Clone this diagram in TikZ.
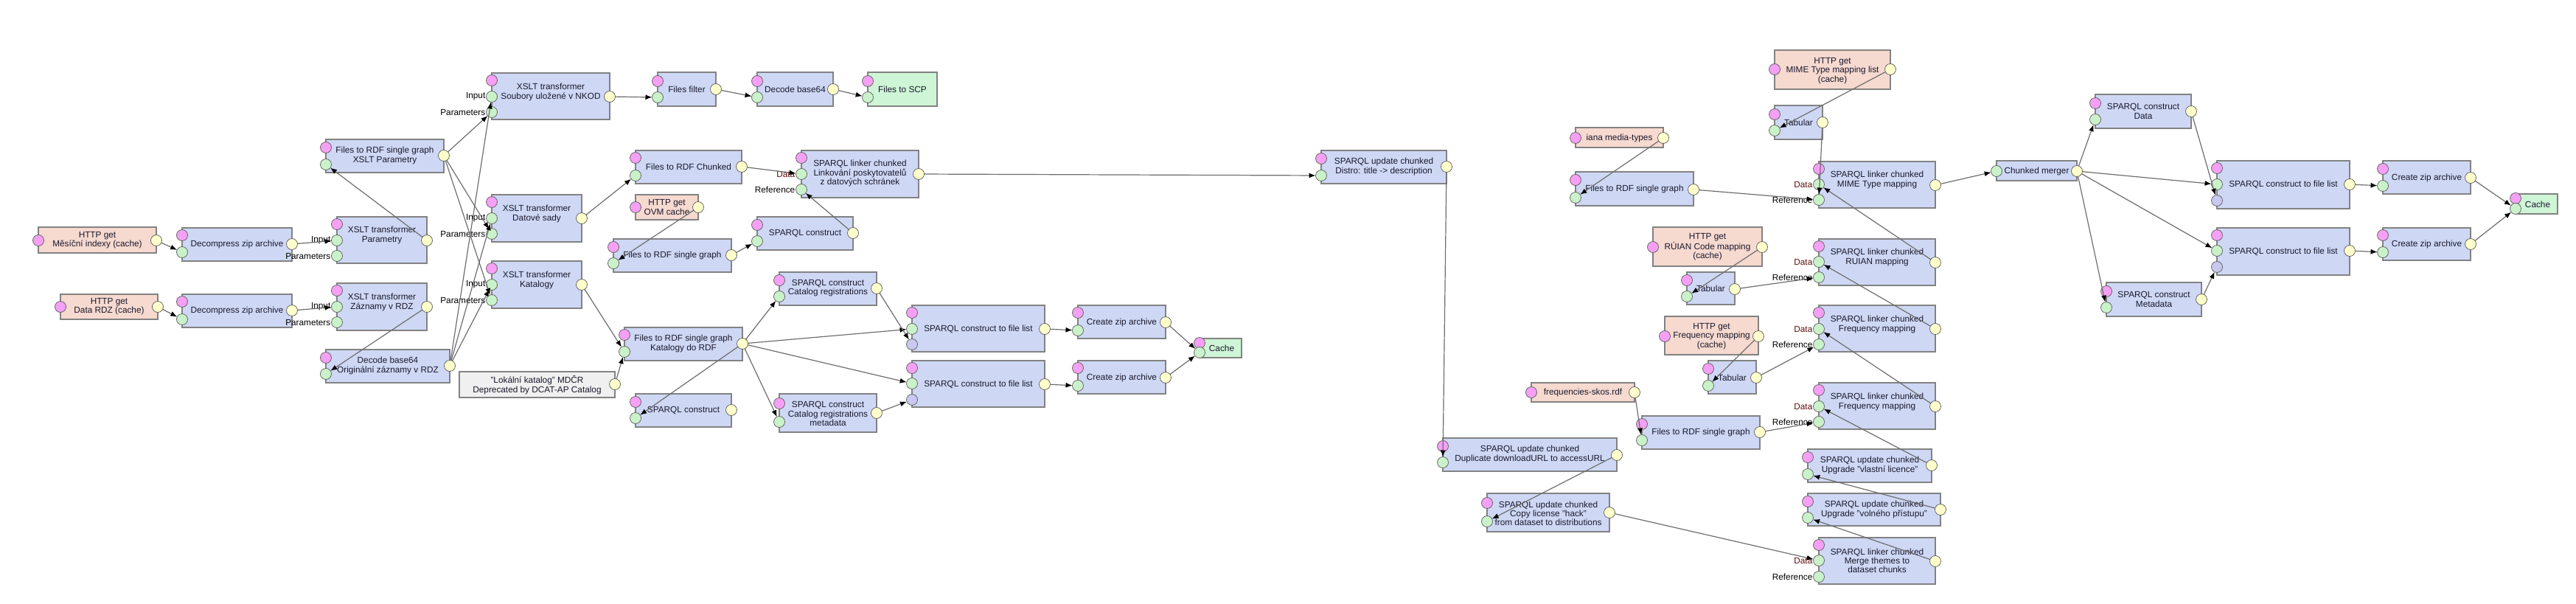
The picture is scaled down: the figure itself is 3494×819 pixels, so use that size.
\documentclass[tikz,border=0pt]{standalone}
\usepackage{fontspec}
\setmainfont{Liberation Sans}
\usetikzlibrary{arrows.meta}
\definecolor{cblue}{RGB}{206,216,245}
\definecolor{csal}{RGB}{246,217,207}
\definecolor{cgrn}{RGB}{206,245,214}
\definecolor{cgry}{RGB}{240,240,240}
\definecolor{pmag}{RGB}{245,160,245}
\definecolor{pgrn}{RGB}{202,242,202}
\definecolor{pyel}{RGB}{255,255,204}
\definecolor{plav}{RGB}{200,200,240}
\definecolor{bord}{RGB}{130,130,130}
\definecolor{lin}{RGB}{110,110,110}
\definecolor{maroonlab}{RGB}{95,15,15}
\definecolor{txtc}{RGB}{25,25,45}
\tikzset{
  box/.style={draw=bord,line width=1.2pt,inner sep=0pt,outer sep=0pt,anchor=north west},
  bbox/.style={box,fill=cblue},
  sbox/.style={box,fill=csal},
  gbox/.style={box,fill=cgrn},
  ybox/.style={box,fill=cgry},
  txt/.style={align=center,font=\fontsize{11.8}{12.2}\selectfont,inner sep=0pt,text=txtc},
  port/.style={circle,draw=black!60,line width=0.8pt,minimum size=15pt,inner sep=0pt,outer sep=0pt},
  mp/.style={port,fill=pmag},
  ip/.style={port,fill=pgrn},
  op/.style={port,fill=pyel},
  ap/.style={port,fill=plav},
  conn/.style={draw=lin,line width=1.2pt,-{Latex[length=9pt,width=7pt,color=black]}},
  plab/.style={font=\fontsize{11.8}{12.2}\selectfont,anchor=east,inner sep=1pt,text=black},
  dlab/.style={plab,text=maroonlab}
}
\newcommand{\comp}[6]{\node[#6,minimum width={#4pt-#2pt},minimum height={#5pt-#3pt}] (#1) at (#2,#3) {};}
\newcommand{\ctext}[4]{\node[txt] (#1) at (#2,#3) {#4};}
\newcommand{\prt}[4]{\node[#4] (#1) at (#2,#3) {};}
\newcommand{\lab}[3]{\node[#1] at (#2.west) {#3};}
\begin{document}
\begin{tikzpicture}[x=1pt,y=-1pt]
\useasboundingbox (0,0) rectangle (3494,819);
\fill[white] (0,0) rectangle (3494,819);

% ---------- left part ----------
\comp{httpA}{52}{308}{212}{343}{sbox}
\ctext{httpA-t}{132}{326}{HTTP get\\Měsíční indexy (cache)}
\prt{httpA-m}{52}{326}{mp}\prt{httpA-o}{212}{326}{op}

\comp{decA}{247}{309}{396}{354}{bbox}
\ctext{decA-t}{321.5}{331}{Decompress zip archive}
\prt{decA-m}{247}{319}{mp}\prt{decA-i}{247}{342}{ip}\prt{decA-o}{396}{331}{op}

\comp{httpB}{82}{399}{214}{433}{sbox}
\ctext{httpB-t}{148}{416}{HTTP get\\Data RDZ (cache)}
\prt{httpB-m}{82}{416}{mp}\prt{httpB-o}{214}{416}{op}

\comp{decB}{247}{399}{396}{444}{bbox}
\ctext{decB-t}{321.5}{421}{Decompress zip archive}
\prt{decB-m}{247}{409}{mp}\prt{decB-i}{247}{433}{ip}\prt{decB-o}{396}{421}{op}

\comp{xsltPar}{457}{294}{579}{357}{bbox}
\ctext{xsltPar-t}{518}{319}{XSLT transformer\\Parametry}
\prt{xsltPar-m}{457}{304}{mp}\prt{xsltPar-i}{457}{326}{ip}\prt{xsltPar-p}{457}{347}{ip}\prt{xsltPar-o}{579}{326}{op}

\comp{xsltZaz}{457}{384}{579}{448}{bbox}
\ctext{xsltZaz-t}{518}{410}{XSLT transformer\\Záznamy v RDZ}
\prt{xsltZaz-m}{457}{394}{mp}\prt{xsltZaz-i}{457}{416}{ip}\prt{xsltZaz-p}{457}{437}{ip}\prt{xsltZaz-o}{579}{416}{op}

\comp{f2rPar}{442}{189}{602}{234}{bbox}
\ctext{f2rPar-t}{522}{211}{Files to RDF single graph\\XSLT Parametry}
\prt{f2rPar-m}{442}{200}{mp}\prt{f2rPar-i}{442}{223}{ip}\prt{f2rPar-o}{602}{211}{op}

\comp{decode64}{442}{474}{610}{519}{bbox}
\ctext{decode64-t}{526}{496}{Decode base64\\Originální záznamy v RDZ}
\prt{decode64-m}{442}{485}{mp}\prt{decode64-i}{442}{507}{ip}\prt{decode64-o}{610}{496}{op}

\comp{xsltNKOD}{667}{99}{827}{162}{bbox}
\ctext{xsltNKOD-t}{747}{125}{XSLT transformer\\Soubory uložené v NKOD}
\prt{xsltNKOD-m}{667}{109}{mp}\prt{xsltNKOD-i}{667}{131}{ip}\prt{xsltNKOD-p}{667}{152}{ip}\prt{xsltNKOD-o}{827}{131}{op}

\comp{xsltDat}{667}{264}{789}{328}{bbox}
\ctext{xsltDat-t}{728}{290}{XSLT transformer\\Datové sady}
\prt{xsltDat-m}{667}{274}{mp}\prt{xsltDat-i}{667}{296}{ip}\prt{xsltDat-p}{667}{317}{ip}\prt{xsltDat-o}{789}{296}{op}

\comp{xsltKat}{667}{354}{789}{418}{bbox}
\ctext{xsltKat-t}{728}{380}{XSLT transformer\\Katalogy}
\prt{xsltKat-m}{667}{364}{mp}\prt{xsltKat-i}{667}{386}{ip}\prt{xsltKat-p}{667}{407}{ip}\prt{xsltKat-o}{789}{386}{op}

\comp{lokal}{623}{504}{834}{539}{ybox}
\ctext{lokal-t}{728.5}{522}{"Lokální katalog" MDČR\\Deprecated by DCAT-AP Catalog}
\prt{lokal-o}{834}{521}{op}

\comp{filesFilter}{892}{98}{971}{144}{bbox}
\ctext{filesFilter-t}{931.5}{121}{Files filter}
\prt{filesFilter-m}{892}{110}{mp}\prt{filesFilter-i}{892}{132}{ip}\prt{filesFilter-o}{971}{121}{op}

\comp{dec64b}{1027}{98}{1130}{144}{bbox}
\ctext{dec64b-t}{1078.5}{121}{Decode base64}
\prt{dec64b-m}{1027}{110}{mp}\prt{dec64b-i}{1027}{132}{ip}\prt{dec64b-o}{1130}{121}{op}

\comp{scp}{1177}{98}{1271}{144}{gbox}
\ctext{scp-t}{1224}{121}{Files to SCP}
\prt{scp-m}{1177}{110}{mp}\prt{scp-i}{1177}{132}{ip}

\comp{f2rChunk}{862}{204}{1006}{249}{bbox}
\ctext{f2rChunk-t}{934}{226}{Files to RDF Chunked}
\prt{f2rChunk-m}{862}{214}{mp}\prt{f2rChunk-i}{862}{238}{ip}\prt{f2rChunk-o}{1006}{226}{op}

\comp{ovm}{862}{264}{947}{298}{sbox}
\ctext{ovm-t}{904.5}{281}{HTTP get\\OVM cache}
\prt{ovm-m}{862}{281}{mp}\prt{ovm-o}{947}{281}{op}

\comp{linkPosk}{1087}{204}{1246}{268}{bbox}
\ctext{linkPosk-t}{1166.5}{235}{SPARQL linker chunked\\Linkování poskytovatelů\\z datových schránek}
\prt{linkPosk-m}{1087}{214}{mp}\prt{linkPosk-d}{1087}{236}{ip}\prt{linkPosk-r}{1087}{257}{ip}\prt{linkPosk-o}{1246}{236}{op}

\comp{construct1}{1027}{294}{1157}{339}{bbox}
\ctext{construct1-t}{1092}{316}{SPARQL construct}
\prt{construct1-m}{1027}{305}{mp}\prt{construct1-i}{1027}{327}{ip}\prt{construct1-o}{1157}{316}{op}

\comp{f2rOVM}{832}{324}{992}{369}{bbox}
\ctext{f2rOVM-t}{912}{346}{Files to RDF single graph}
\prt{f2rOVM-m}{832}{335}{mp}\prt{f2rOVM-i}{832}{357}{ip}\prt{f2rOVM-o}{992}{346}{op}

\comp{catReg}{1057}{369}{1189}{414}{bbox}
\ctext{catReg-t}{1123}{391}{SPARQL construct\\Catalog registrations}
\prt{catReg-m}{1057}{380}{mp}\prt{catReg-i}{1057}{402}{ip}\prt{catReg-o}{1189}{391}{op}

\comp{f2rKat}{847}{444}{1007}{489}{bbox}
\ctext{f2rKat-t}{927}{466}{Files to RDF single graph\\Katalogy do RDF}
\prt{f2rKat-m}{847}{454}{mp}\prt{f2rKat-i}{847}{477}{ip}\prt{f2rKat-o}{1007}{466}{op}

\comp{construct2}{862}{534}{992}{579}{bbox}
\ctext{construct2-t}{927}{556}{SPARQL construct}
\prt{construct2-m}{862}{545}{mp}\prt{construct2-i}{862}{567}{ip}\prt{construct2-o}{992}{556}{op}

\comp{catRegMeta}{1057}{534}{1189}{586}{bbox}
\ctext{catRegMeta-t}{1123}{561}{SPARQL construct\\Catalog registrations\\metadata}
\prt{catRegMeta-m}{1057}{547}{mp}\prt{catRegMeta-i}{1057}{572}{ip}\prt{catRegMeta-o}{1189}{560}{op}

\comp{fl1}{1237}{414}{1417}{477}{bbox}
\ctext{fl1-t}{1327}{446}{SPARQL construct to file list}
\prt{fl1-m}{1237}{424}{mp}\prt{fl1-i}{1237}{446}{ip}\prt{fl1-a}{1237}{467}{ap}\prt{fl1-o}{1417}{446}{op}

\comp{fl2}{1237}{489}{1417}{552}{bbox}
\ctext{fl2-t}{1327}{521}{SPARQL construct to file list}
\prt{fl2-m}{1237}{499}{mp}\prt{fl2-i}{1237}{520}{ip}\prt{fl2-a}{1237}{542}{ap}\prt{fl2-o}{1417}{521}{op}

\comp{zip1}{1462}{414}{1581}{459}{bbox}
\ctext{zip1-t}{1521.5}{437}{Create zip archive}
\prt{zip1-m}{1462}{424}{mp}\prt{zip1-i}{1462}{448}{ip}\prt{zip1-o}{1581}{437}{op}

\comp{zip2}{1462}{489}{1581}{534}{bbox}
\ctext{zip2-t}{1521.5}{512}{Create zip archive}
\prt{zip2-m}{1462}{499}{mp}\prt{zip2-i}{1462}{523}{ip}\prt{zip2-o}{1581}{512}{op}

\comp{cache1}{1627}{459}{1684}{485}{gbox}
\ctext{cache1-t}{1657}{472}{Cache}
\prt{cache1-m}{1627}{465}{mp}\prt{cache1-i}{1627}{478}{ip}

% ---------- middle part ----------
\comp{distro}{1792}{204}{1962}{249}{bbox}
\ctext{distro-t}{1877}{226}{SPARQL update chunked\\Distro: title -> description}
\prt{distro-m}{1792}{215}{mp}\prt{distro-i}{1792}{238}{ip}\prt{distro-o}{1962}{226}{op}

\comp{dup}{1957}{594}{2193}{639}{bbox}
\ctext{dup-t}{2075}{616}{SPARQL update chunked\\Duplicate downloadURL to accessURL}
\prt{dup-m}{1957}{605}{mp}\prt{dup-i}{1957}{627}{ip}\prt{dup-o}{2193}{617}{op}

\comp{copyLic}{2017}{669}{2183}{721}{bbox}
\ctext{copyLic-t}{2100}{696}{SPARQL update chunked\\Copy license "hack"\\from dataset to distributions}
\prt{copyLic-m}{2017}{682}{mp}\prt{copyLic-i}{2017}{707}{ip}\prt{copyLic-o}{2183}{695}{op}

\comp{freqRdf}{2077}{519}{2217}{545}{sbox}
\ctext{freqRdf-t}{2147}{532}{frequencies-skos.rdf}
\prt{freqRdf-m}{2077}{532}{mp}\prt{freqRdf-o}{2217}{532}{op}

\comp{f2rFreq}{2227}{564}{2387}{609}{bbox}
\ctext{f2rFreq-t}{2307}{586}{Files to RDF single graph}
\prt{f2rFreq-m}{2227}{575}{mp}\prt{f2rFreq-i}{2227}{597}{ip}\prt{f2rFreq-o}{2387}{586}{op}

\comp{iana}{2137}{173}{2256}{200}{sbox}
\ctext{iana-t}{2196.5}{187}{iana media-types}
\prt{iana-m}{2137}{187}{mp}\prt{iana-o}{2256}{187}{op}

\comp{f2rIana}{2137}{233}{2297}{279}{bbox}
\ctext{f2rIana-t}{2217}{256}{Files to RDF single graph}
\prt{f2rIana-m}{2137}{244}{mp}\prt{f2rIana-i}{2137}{268}{ip}\prt{f2rIana-o}{2297}{257}{op}

\comp{httpMime}{2407}{68}{2564}{121}{sbox}
\ctext{httpMime-t}{2485.5}{96}{HTTP get\\MIME Type mapping list\\(cache)}
\prt{httpMime-m}{2407}{94}{mp}\prt{httpMime-o}{2564}{94}{op}

\comp{tabMime}{2407}{143}{2472}{189}{bbox}
\ctext{tabMime-t}{2439.5}{166}{Tabular}
\prt{tabMime-m}{2407}{155}{mp}\prt{tabMime-i}{2407}{177}{ip}\prt{tabMime-o}{2472}{166}{op}

\comp{linkMime}{2467}{219}{2625}{282}{bbox}
\ctext{linkMime-t}{2546}{244}{SPARQL linker chunked\\MIME Type mapping}
\prt{linkMime-m}{2467}{229}{mp}\prt{linkMime-d}{2467}{250}{ip}\prt{linkMime-r}{2467}{271}{ip}\prt{linkMime-o}{2625}{251}{op}

\comp{httpRuian}{2242}{308}{2390}{361}{sbox}
\ctext{httpRuian-t}{2316}{335}{HTTP get\\RÚIAN Code mapping\\(cache)}
\prt{httpRuian-m}{2242}{335}{mp}\prt{httpRuian-o}{2390}{335}{op}

\comp{tabRuian}{2288}{369}{2353}{413}{bbox}
\ctext{tabRuian-t}{2320.5}{391}{Tabular}
\prt{tabRuian-m}{2288}{380}{mp}\prt{tabRuian-i}{2288}{402}{ip}\prt{tabRuian-o}{2353}{392}{op}

\comp{linkRuian}{2467}{324}{2625}{387}{bbox}
\ctext{linkRuian-t}{2546}{349}{SPARQL linker chunked\\RUIAN mapping}
\prt{linkRuian-m}{2467}{334}{mp}\prt{linkRuian-d}{2467}{355}{ip}\prt{linkRuian-r}{2467}{376}{ip}\prt{linkRuian-o}{2625}{356}{op}

\comp{httpFreq}{2258}{429}{2385}{481}{sbox}
\ctext{httpFreq-t}{2321.5}{456}{HTTP get\\Frequency mapping\\(cache)}
\prt{httpFreq-m}{2258}{456}{mp}\prt{httpFreq-o}{2385}{456}{op}

\comp{tabFreq}{2317}{489}{2382}{534}{bbox}
\ctext{tabFreq-t}{2349.5}{512}{Tabular}
\prt{tabFreq-m}{2317}{500}{mp}\prt{tabFreq-i}{2317}{523}{ip}\prt{tabFreq-o}{2382}{512}{op}

\comp{linkFreqA}{2467}{414}{2625}{477}{bbox}
\ctext{linkFreqA-t}{2546}{440}{SPARQL linker chunked\\Frequency mapping}
\prt{linkFreqA-m}{2467}{424}{mp}\prt{linkFreqA-d}{2467}{446}{ip}\prt{linkFreqA-r}{2467}{467}{ip}\prt{linkFreqA-o}{2625}{446}{op}

\comp{linkFreqB}{2467}{519}{2625}{582}{bbox}
\ctext{linkFreqB-t}{2546}{545}{SPARQL linker chunked\\Frequency mapping}
\prt{linkFreqB-m}{2467}{529}{mp}\prt{linkFreqB-d}{2467}{551}{ip}\prt{linkFreqB-r}{2467}{572}{ip}\prt{linkFreqB-o}{2625}{551}{op}

\comp{upVlastni}{2452}{609}{2620}{654}{bbox}
\ctext{upVlastni-t}{2536}{631}{SPARQL update chunked\\Upgrade "vlastní licence"}
\prt{upVlastni-m}{2452}{620}{mp}\prt{upVlastni-i}{2452}{643}{ip}\prt{upVlastni-o}{2620}{631}{op}

\comp{upVolne}{2452}{669}{2632}{713}{bbox}
\ctext{upVolne-t}{2542}{691}{SPARQL update chunked\\Upgrade "volného přístupu"}
\prt{upVolne-m}{2452}{680}{mp}\prt{upVolne-i}{2452}{702}{ip}\prt{upVolne-o}{2632}{691}{op}

\comp{merge}{2467}{729}{2625}{792}{bbox}
\ctext{merge-t}{2546}{760}{SPARQL linker chunked\\Merge themes to\\dataset chunks}
\prt{merge-m}{2467}{739}{mp}\prt{merge-d}{2467}{760}{ip}\prt{merge-r}{2467}{782}{ip}\prt{merge-o}{2625}{761}{op}

% ---------- right part ----------
\comp{merger}{2708}{218}{2817}{245}{bbox}
\ctext{merger-t}{2762.5}{232}{Chunked merger}
\prt{merger-i}{2708}{232}{ip}\prt{merger-o}{2817}{232}{op}

\comp{conData}{2842}{128}{2972}{174}{bbox}
\ctext{conData-t}{2907}{151}{SPARQL construct\\Data}
\prt{conData-m}{2842}{140}{mp}\prt{conData-i}{2842}{162}{ip}\prt{conData-o}{2972}{151}{op}

\comp{conMeta}{2857}{383}{2986}{429}{bbox}
\ctext{conMeta-t}{2921.5}{406}{SPARQL construct\\Metadata}
\prt{conMeta-m}{2857}{395}{mp}\prt{conMeta-i}{2857}{417}{ip}\prt{conMeta-o}{2986}{406}{op}

\comp{flR1}{3007}{218}{3187}{283}{bbox}
\ctext{flR1-t}{3097}{250}{SPARQL construct to file list}
\prt{flR1-m}{3007}{228}{mp}\prt{flR1-i}{3007}{250}{ip}\prt{flR1-a}{3007}{272}{ap}\prt{flR1-o}{3187}{250}{op}

\comp{flR2}{3007}{309}{3187}{373}{bbox}
\ctext{flR2-t}{3097}{341}{SPARQL construct to file list}
\prt{flR2-m}{3007}{319}{mp}\prt{flR2-i}{3007}{340}{ip}\prt{flR2-a}{3007}{362}{ap}\prt{flR2-o}{3187}{340}{op}

\comp{zipR1}{3232}{218}{3351}{263}{bbox}
\ctext{zipR1-t}{3291.5}{241}{Create zip archive}
\prt{zipR1-m}{3232}{229}{mp}\prt{zipR1-i}{3232}{252}{ip}\prt{zipR1-o}{3351}{241}{op}

\comp{zipR2}{3232}{309}{3351}{353}{bbox}
\ctext{zipR2-t}{3291.5}{331}{Create zip archive}
\prt{zipR2-m}{3232}{319}{mp}\prt{zipR2-i}{3232}{342}{ip}\prt{zipR2-o}{3351}{331}{op}

\comp{cacheR}{3412}{263}{3469}{290}{gbox}
\ctext{cacheR-t}{3442}{277}{Cache}
\prt{cacheR-m}{3412}{269}{mp}\prt{cacheR-i}{3412}{283}{ip}

% ---------- port labels ----------
\foreach \n in {xsltPar,xsltZaz,xsltNKOD,xsltDat,xsltKat}{
  \lab{plab}{\n-i}{Input}
  \lab{plab}{\n-p}{Parameters}
}
\foreach \n in {linkPosk,linkMime,linkRuian,linkFreqA,linkFreqB,merge}{
  \lab{dlab}{\n-d}{Data}
  \lab{plab}{\n-r}{Reference}
}

% ---------- connectors ----------
\draw[conn] (httpA-o) -- (decA-i);
\draw[conn] (httpB-o) -- (decB-i);
\draw[conn] (decA-o) -- (xsltPar-i);
\draw[conn] (decB-o) -- (xsltZaz-i);
\draw[conn] (xsltPar-o) -- (f2rPar-i);
\draw[conn] (xsltZaz-o) -- (decode64-i);
\draw[conn] (f2rPar-o) -- (xsltNKOD-p);
\draw[conn] (f2rPar-o) -- (xsltDat-p);
\draw[conn] (f2rPar-o) -- (xsltKat-p);
\draw[conn] (decode64-o) -- (xsltNKOD-i);
\draw[conn] (decode64-o) -- (xsltDat-i);
\draw[conn] (decode64-o) -- (xsltKat-i);
\draw[conn] (xsltNKOD-o) -- (filesFilter-i);
\draw[conn] (filesFilter-o) -- (dec64b-i);
\draw[conn] (dec64b-o) -- (scp-i);
\draw[conn] (xsltDat-o) -- (f2rChunk-i);
\draw[conn] (f2rChunk-o) -- (linkPosk-d);
\draw[conn] (ovm-o) -- (f2rOVM-i);
\draw[conn] (f2rOVM-o) -- (construct1-i);
\draw[conn] (construct1-o) -- (linkPosk-r);
\draw[conn] (xsltKat-o) -- (f2rKat-i);
\draw[conn] (lokal-o) -- (f2rKat-i);
\draw[conn] (f2rKat-o) -- (catReg-i);
\draw[conn] (f2rKat-o) -- (fl1-i);
\draw[conn] (f2rKat-o) -- (fl2-i);
\draw[conn] (f2rKat-o) -- (catRegMeta-i);
\draw[conn] (f2rKat-o) -- (construct2-i);
\draw[conn] (catReg-o) -- (fl1-a);
\draw[conn] (catRegMeta-o) -- (fl2-a);
\draw[conn] (fl1-o) -- (zip1-i);
\draw[conn] (fl2-o) -- (zip2-i);
\draw[conn] (zip1-o) -- (cache1-i);
\draw[conn] (zip2-o) -- (cache1-i);
\draw[conn] (linkPosk-o) -- (distro-i);
\draw[conn] (distro-o) -- (dup-i);
\draw[conn] (dup-o) -- (copyLic-i);
\draw[conn] (copyLic-o) -- (merge-d);
\draw[conn] (merge-o) -- (upVolne-i);
\draw[conn] (upVolne-o) -- (upVlastni-i);
\draw[conn] (upVlastni-o) -- (linkFreqB-d);
\draw[conn] (linkFreqB-o) -- (linkFreqA-d);
\draw[conn] (linkFreqA-o) -- (linkRuian-d);
\draw[conn] (linkRuian-o) -- (linkMime-d);
\draw[conn] (linkMime-o) -- (merger-i);
\draw[conn] (freqRdf-o) -- (f2rFreq-i);
\draw[conn] (f2rFreq-o) -- (linkFreqB-r);
\draw[conn] (httpFreq-o) -- (tabFreq-i);
\draw[conn] (tabFreq-o) -- (linkFreqA-r);
\draw[conn] (httpRuian-o) -- (tabRuian-i);
\draw[conn] (tabRuian-o) -- (linkRuian-r);
\draw[conn] (httpMime-o) -- (tabMime-i);
\draw[conn] (tabMime-o) -- (linkMime-r);
\draw[conn] (iana-o) -- (f2rIana-i);
\draw[conn] (f2rIana-o) -- (linkMime-r);
\draw[conn] (merger-o) -- (conData-i);
\draw[conn] (merger-o) -- (flR1-i);
\draw[conn] (merger-o) -- (flR2-i);
\draw[conn] (merger-o) -- (conMeta-i);
\draw[conn] (conData-o) -- (flR1-a);
\draw[conn] (conMeta-o) -- (flR2-a);
\draw[conn] (flR1-o) -- (zipR1-i);
\draw[conn] (flR2-o) -- (zipR2-i);
\draw[conn] (zipR1-o) -- (cacheR-i);
\draw[conn] (zipR2-o) -- (cacheR-i);
\end{tikzpicture}
\end{document}
